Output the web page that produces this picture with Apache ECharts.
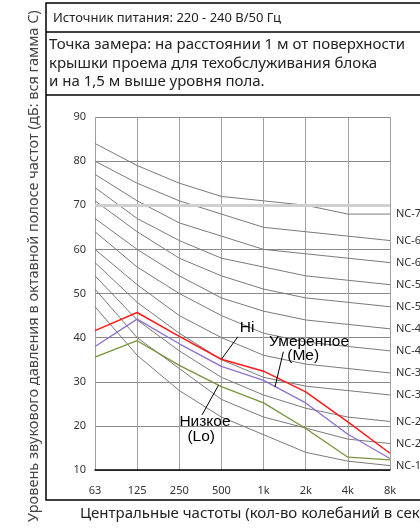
<!DOCTYPE html>
<html>
<head>
<meta charset="utf-8">
<script src="https://cdn.jsdelivr.net/npm/echarts@6/dist/echarts.min.js"></script>
<style>
html,body{margin:0;padding:0;background:#fff;}
#chart{width:420px;height:529px;}
</style>
</head>
<body>
<div id="chart"></div>
<script>
// центральные частоты октавных полос (подписи оси X)
var freqs = ['63','125','250','500','1k','2k','4k','8k'];

// кривые NC
var ncNames = ['NC-15','NC-20','NC-25','NC-30','NC-35','NC-40','NC-45','NC-50','NC-55','NC-60','NC-65','NC-70'];
var nc15 = [47,36,28,22,18,14,12,11];
var nc20 = [51,40,33,26,22,19.5,17,16];
var nc25 = [54,44,37,31,27,24,22,21];
var nc30 = [57,48,41,35,31,29,28,27];
var nc35 = [60,52,45,40,36,34,33,32];
var nc40 = [64,56,50,45,41,39,38,37];
var nc45 = [67,60,54,49,46,44,43,42];
var nc50 = [71,64,58,54,51,49,48,47];
var nc55 = [74,67,62,58,56,54,53,52];
var nc60 = [77,71,66,63,60,59,58,57];
var nc65 = [80,75,71,68,65,64,63,62];
var nc70 = [84,79,75,72,71,70,68,68];
var ncValues = [nc15,nc20,nc25,nc30,nc35,nc40,nc45,nc50,nc55,nc60,nc65,nc70];

// режимы вентилятора
var hi = [41.6,45.7,40.3,35.1,32.4,27.7,20.9,13.8];
var me = [38.0,44.2,38.6,33.5,30.3,25.2,18.1,12.6];
var lo = [35.6,39.3,33.7,28.9,25.2,19.4,12.9,12.3];

function pts(arr){
  return arr.map(function(v,i){ return [i,v]; });
}

var font = 'Noto Sans';

var series = ncNames.map(function(name,k){
  return {
    name: name,
    type: 'line',
    data: pts(ncValues[k]),
    symbol: 'none',
    silent: true,
    lineStyle: {color:'#7a7a7a', width:1},
    endLabel: {show:true, formatter:'{a}', color:'#333', fontSize:11, fontFamily:font, distance:6}
  };
});
series[0].markLine = {
  silent: true,
  symbol: ['none','none'],
  label: {show:false},
  lineStyle: {color:'#cfcfcf', width:3, type:'solid'},
  data: [{yAxis:70}]
};

series.push({
  name:'Lo', type:'line', data:pts(lo), symbol:'none', silent:true,
  lineStyle:{color:'#77933c', width:1.3}
});
series.push({
  name:'Me', type:'line', data:pts(me), symbol:'none', silent:true,
  lineStyle:{color:'#8e6fd0', width:1.3}
});

function note(text,x,y){
  return {
    coord:[x,y], symbol:'circle', symbolSize:1, itemStyle:{color:'rgba(0,0,0,0)'},
    label:{show:true, position:'inside', formatter:text, color:'#000', fontSize:15.5, fontFamily:'Liberation Sans'}
  };
}

series.push({
  name:'Hi', type:'line', data:pts(hi), symbol:'none', silent:true,
  lineStyle:{color:'#ff1a1a', width:1.5},
  markLine:{
    silent:true,
    symbol:['none','none'],
    label:{show:false},
    lineStyle:{color:'#000', width:1, type:'solid'},
    data:[
      [{coord:[3.0,hi[3]]},{coord:[3.39,40.2]}],
      [{coord:[4.27,28.8]},{coord:[4.47,36.8]}],
      [{coord:[2.54,22.5]},{coord:[2.93,29.2]}]
    ]
  },
  markPoint:{
    silent:true,
    data:[
      note('Hi',3.61,42.2),
      note('Умеренное',5.08,39.0),
      note('(Me)',4.94,35.85),
      note('Низкое',2.61,20.9),
      note('(Lo)',2.52,17.5)
    ]
  }
});

var option = {
  animation: false,
  backgroundColor: '#fff',
  grid: {left:95, right:30, top:117, bottom:59},
  xAxis: {
    type:'value', min:0, max:7, interval:1,
    axisLine:{show:true, onZero:false, lineStyle:{color:'#000', width:1.5}},
    axisTick:{show:false},
    axisLabel:{
      margin:15, color:'#333', fontSize:11, fontFamily:font,
      formatter:function(v){ return freqs[v]; }
    },
    splitLine:{show:true, lineStyle:{color:'#a0a0a0', width:1}}
  },
  yAxis: {
    type:'value', min:10, max:90, interval:10,
    axisLine:{show:false},
    axisTick:{show:false},
    axisLabel:{margin:9, color:'#333', fontSize:11, fontFamily:font},
    splitLine:{show:true, lineStyle:{color:'#8a8a8a', width:1}}
  },
  graphic: [
    {type:'rect', shape:{x:46, y:3, width:420, height:497}, style:{fill:'none', stroke:'#000', lineWidth:1.5}},
    {type:'line', shape:{x1:46, y1:32, x2:420, y2:32}, style:{stroke:'#000', lineWidth:1.5}},
    {type:'line', shape:{x1:46, y1:95, x2:420, y2:95}, style:{stroke:'#000', lineWidth:1.5}},
    {type:'text', x:53, y:18, style:{text:'Источник питания: 220 - 240 В/50 Гц', fontSize:13, fontFamily:font, fill:'#222', verticalAlign:'middle'}},
    {type:'text', x:49, y:35.5, style:{
      text:'Точка замера: на расстоянии 1 м от поверхности\nкрышки проема для техобслуживания блока\nи на 1,5 м выше уровня пола.',
      fontSize:15, lineHeight:18.5, fontFamily:font, fill:'#222', verticalAlign:'top'}},
    {type:'text', x:34, y:522, rotation:Math.PI/2, style:{
      text:'Уровень звукового давления в октавной полосе частот (дБ: вся гамма C)',
      fontSize:14.5, fontFamily:font, fill:'#444', align:'left', verticalAlign:'middle'}},
    {type:'text', x:80, y:514, style:{
      text:'Центральные частоты (кол-во колебаний в секунду, Гц)',
      fontSize:15, fontFamily:font, fill:'#222', verticalAlign:'middle'}}
  ],
  series: series
};

var myChart = echarts.init(document.getElementById('chart'));
myChart.setOption(option);
</script>
</body>
</html>
